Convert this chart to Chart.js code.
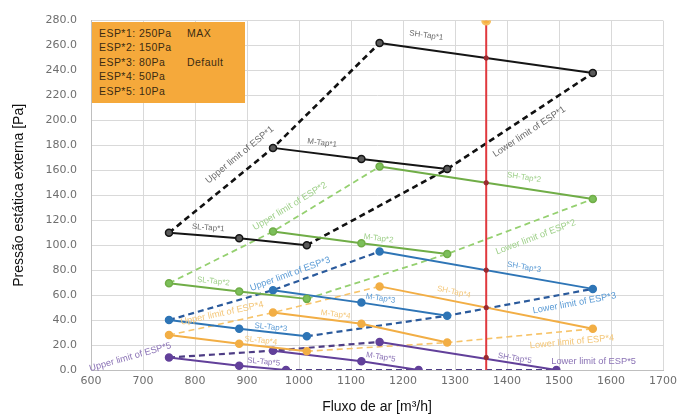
<!DOCTYPE html>
<html><head><meta charset="utf-8">
<script src="https://cdn.jsdelivr.net/npm/chart.js@4.4.1/dist/chart.umd.min.js"></script>
<style>
html,body{margin:0;padding:0;background:#fff;}
#wrap{position:relative;width:682px;height:418px;}
#legendBox{position:absolute;background:#F5A93B;font-family:"Liberation Sans",Arial,sans-serif;font-size:10.5px;color:#3b2b12;line-height:14.5px;padding:4px 0 0 7px;box-sizing:border-box;letter-spacing:0.45px;white-space:nowrap;}
#legendBox span{display:inline-block;width:88px;}
</style></head><body>
<div id="wrap"><canvas id="c" width="682" height="418"></canvas><div id="legendBox"></div></div>
<script>
// ---- tick labels ----
const xTicks = [600,700,800,900,1000,1100,1200,1300,1400,1500,1600,1700];
const yTicks = [0,20,40,60,80,100,120,140,160,180,200,220,240,260,280];

// ---- legend box text ----
const espNames = ['ESP*1','ESP*2','ESP*3','ESP*4','ESP*5'];
const espValues = [250,150,80,50,10];
const espNotes = ['MAX','','Default','',''];
const ratedFlow = 1360;

// ---- flows [m3/h] ----
const flowSL = [750, 885, 1015];
const flowM  = [950, 1120, 1285];
const flowSH = [1155, 1565];
const flowSL5 = [750, 885, 975];
const flowM5  = [950, 1120, 1230];
const flowSH5 = [1155, 1495];

// ---- pressures [Pa] ----
const esp1SL = [110, 105.5, 100];
const esp1M  = [178, 169, 161];
const esp1SH = [262, 238];
const esp2SL = [69.5, 63, 57];
const esp2M  = [111, 101.5, 93];
const esp2SH = [163, 137];
const esp3SL = [40, 33, 27];
const esp3M  = [64, 54, 43.5];
const esp3SH = [95, 65];
const esp4SL = [28, 21, 15];
const esp4M  = [46, 37, 22];
const esp4SH = [67, 33];
const esp5SL = [10, 3.5, 0];
const esp5M  = [15.5, 7, 0];
const esp5SH = [22.5, 0];

const groups = [
  {sl:[flowSL,esp1SL], m:[flowM,esp1M], sh:[flowSH,esp1SH], col:'#151515', pt:'#5a5a5a', dash:'#111111', dw:2.6, lab:'#6a6a6a'},
  {sl:[flowSL,esp2SL], m:[flowM,esp2M], sh:[flowSH,esp2SH], col:'#70AD47', pt:'#7cbf5a', dash:'#95D070', dw:1.8, lab:'#9fd08a'},
  {sl:[flowSL,esp3SL], m:[flowM,esp3M], sh:[flowSH,esp3SH], col:'#2E75B6', pt:'#2E75B6', dash:'#2A5A9C', dw:2.2, lab:'#5b9bd5'},
  {sl:[flowSL,esp4SL], m:[flowM,esp4M], sh:[flowSH,esp4SH], col:'#F2AE45', pt:'#F2AE45', dash:'#F7C46A', dw:1.6, lab:'#f4c779'},
  {sl:[flowSL5,esp5SL], m:[flowM5,esp5M], sh:[flowSH5,esp5SH], col:'#62409A', pt:'#62409A', dash:'#4E3D85', dw:2.2, lab:'#8a72b5'}
];

function pts(xs, ys){ return xs.map((x,i)=>({x:x, y:ys[i]})); }

const datasets = [];
groups.forEach((g,k)=>{
  const n = k+1;
  const first = a => ({x:a[0][0], y:a[1][0]});
  const last = a => ({x:a[0][a[0].length-1], y:a[1][a[1].length-1]});
  datasets.push({label:'Upper limit of ESP*'+n, data:[first(g.sl),first(g.m),first(g.sh)], borderColor:g.dash, borderWidth:g.dw, borderDash:[6,4], pointRadius:0, order:4});
  datasets.push({label:'Lower limit of ESP*'+n, data:[last(g.sl),last(g.m),last(g.sh)], borderColor:g.dash, borderWidth:g.dw, borderDash:[6,4], pointRadius:0, order:4});
  [['SL',g.sl],['M',g.m],['SH',g.sh]].forEach(([nm,a])=>{
    datasets.push({label:nm+'-Tap*'+n, data:pts(a[0],a[1]), borderColor:g.col, borderWidth:2, pointRadius:3.5, pointBackgroundColor:g.pt, pointBorderColor:g.col, pointBorderWidth:1.5, order:3});
  });
});
// rated flow line
datasets.push({label:'rated', data:[{x:ratedFlow,y:yTicks[0]},{x:ratedFlow,y:yTicks[yTicks.length-1]}], borderColor:'#E0393E', borderWidth:2, pointRadius:[0,4], pointBackgroundColor:'#F7B040', pointBorderColor:'#F7C060', order:1});
datasets.push({label:'ratedMarks', data:espValues.map(v=>({x:ratedFlow,y:v})), showLine:false, pointRadius:2.2, pointBackgroundColor:'#9a2a30', pointBorderColor:'#9a2a30', order:0});

// ---- line labels: segment, position along (t), offset above (d, px) ----
const lineLabels = [
  ['SH-Tap*1',0,0.21,14,0], ['M-Tap*1',0,0.54,11,0], ['SL-Tap*1',0,0.55,8,0],
  ['Upper limit of ESP*1',0,0.775,15.6,0], ['Lower limit of ESP*1',1,0.51,-14,0],
  ['SH-Tap*2',0,0.67,11,1], ['M-Tap*2',1,0.19,7,1], ['SL-Tap*2',0,0.62,7,1],
  ['Upper limit of ESP*2',1,0.22,12.7,1], ['Lower limit of ESP*2',1,0.57,-15.5,1],
  ['SH-Tap*3',0,0.67,9.5,2], ['M-Tap*3',1,0.21,7,2], ['SL-Tap*3',1,0.46,5,2],
  ['Upper limit of ESP*3',1,0.19,9.3,2], ['Lower limit of ESP*3',1,0.86,-10.8,2],
  ['SH-Tap*4',0,0.34,9,3], ['M-Tap*4',0,0.7,6,3], ['SL-Tap*4',1,0.31,5.5,3],
  ['Upper limit of ESP*4',0,0.53,10,3], ['Lower limit of ESP*4',1,0.85,-11,3],
  ['SH-Tap*5',0,0.76,5,4], ['M-Tap*5',1,0.32,7,4], ['SL-Tap*5',1,0.51,6,4],
  ['Upper limit of ESP*5',0,-0.37,3,4,-16], ['Lower limit of ESP*5',1,1.27,9,4]
];

const labelPlugin = {
  id:'lineLabels',
  afterDatasetsDraw(chart){
    const ctx = chart.ctx;
    ctx.save();
    ctx.textAlign = 'center';
    ctx.textBaseline = 'middle';
    lineLabels.forEach(([text,seg,t,d,gi,ang])=>{
      const di = chart.data.datasets.findIndex(ds=>ds.label===text);
      const meta = chart.getDatasetMeta(di);
      const p0 = meta.data[seg], p1 = meta.data[seg+1];
      const dx = p1.x-p0.x, dy = p1.y-p0.y, len = Math.hypot(dx,dy);
      const ux = dx/len, uy = dy/len;
      const cx = p0.x + dx*t + d*uy;
      const cy = p0.y + dy*t - d*ux;
      const a = (ang!==undefined) ? ang*Math.PI/180 : Math.atan2(dy,dx);
      ctx.save();
      ctx.font = (text.indexOf('limit')>=0 ? '9.3px' : '8px') + ' "Liberation Sans", Arial, sans-serif';
      ctx.translate(cx,cy);
      ctx.rotate(a);
      ctx.fillStyle = groups[gi].lab;
      ctx.fillText(text,0,0);
      ctx.restore();
    });
    ctx.restore();
  }
};

const tickFont = {family:'"DejaVu Sans", sans-serif', size:11};
const chart = new Chart(document.getElementById('c'), {
  type:'line',
  data:{datasets:datasets},
  options:{
    responsive:false, animation:false,
    layout:{padding:{top:20,right:18,left:0,bottom:0}},
    elements:{line:{tension:0}},
    plugins:{legend:{display:false}, tooltip:{enabled:false}},
    scales:{
      x:{type:'linear', min:xTicks[0], max:xTicks[xTicks.length-1],
         afterBuildTicks:s=>{s.ticks = xTicks.map(v=>({value:v}));},
         afterFit:s=>{s.height=48;},
         grid:{color:'#d9d9d9', drawTicks:false}, border:{color:'#bfbfbf'},
         ticks:{padding:5, color:'#6e6e6e', font:tickFont, maxRotation:0, callback:v=>String(v)},
         title:{display:true, text:'Fluxo de ar [m³/h]', color:'#111', font:{family:'"Liberation Sans", Arial, sans-serif', size:14}, padding:{top:0,bottom:2.5}}},
      y:{type:'linear', min:yTicks[0], max:yTicks[yTicks.length-1],
         afterBuildTicks:s=>{s.ticks = yTicks.map(v=>({value:v}));},
         afterFit:s=>{s.width=91;},
         grid:{color:'#d9d9d9', drawTicks:false}, border:{color:'#bfbfbf'},
         ticks:{padding:14, color:'#6e6e6e', font:tickFont, callback:v=>Number(v).toFixed(1)},
         title:{display:true, text:'Pressão estática externa [Pa]', color:'#111', font:{family:'"Liberation Sans", Arial, sans-serif', size:14}, padding:{top:11,bottom:0}}}
    }
  },
  plugins:[labelPlugin]
});

// legend box anchored to the plot area
const box = document.getElementById('legendBox');
box.innerHTML = espNames.map((nm,i)=>'<div><span>'+nm+': '+espValues[i]+'Pa</span>'+espNotes[i]+'</div>').join('');
const ca = chart.chartArea;
box.style.left = (ca.left+1)+'px';
box.style.top = (ca.top+1)+'px';
box.style.width = '153px';
box.style.height = '81px';
</script>
</body></html>
